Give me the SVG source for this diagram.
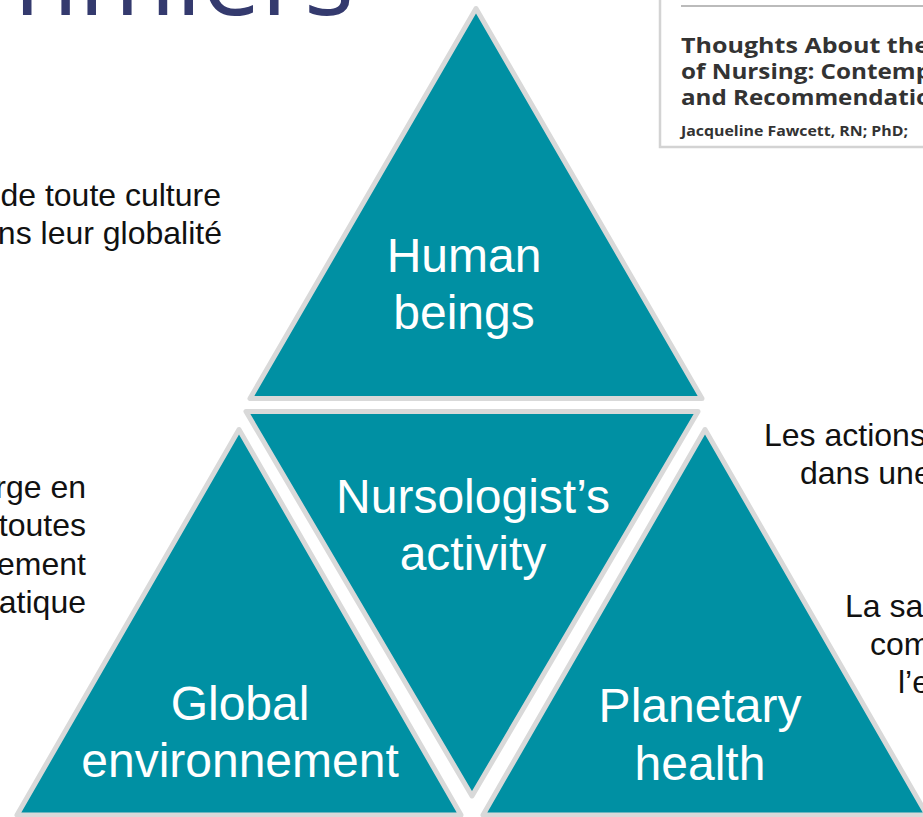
<svg xmlns="http://www.w3.org/2000/svg" width="923" height="817" viewBox="0 0 923 817">
<style>
.tri{fill:#0090A3;stroke:#D9D9D9;stroke-width:5;stroke-linejoin:round}
.lbl{font-family:"Liberation Sans",Arial,sans-serif;font-size:48px;fill:#FFFFFF;text-anchor:middle}
.side{font-family:"Liberation Sans",Arial,sans-serif;font-size:32px;fill:#111111}
.ttl{font-family:"Open Sans",Lato,sans-serif;font-weight:bold;fill:#333333}
</style>
<rect width="923" height="817" fill="#FFFFFF"/>
<text x="14" y="15" font-family="'Open Sans',sans-serif" font-size="105" fill="#343A6E">nmiers</text>
<g id="article">
<rect x="660" y="-5" width="280" height="152" fill="#FFFFFF" stroke="#D3D3D3" stroke-width="2.5"/>
<line x1="681" y1="6" x2="923" y2="6" stroke="#BBBBBB" stroke-width="2"/>
<text class="ttl" x="681" y="53" font-size="21.5" textLength="248" lengthAdjust="spacingAndGlyphs">Thoughts About the</text>
<text class="ttl" x="681" y="79" font-size="21.5" textLength="250" lengthAdjust="spacingAndGlyphs">of Nursing: Contemp</text>
<text class="ttl" x="681" y="105" font-size="21.5" textLength="250" lengthAdjust="spacingAndGlyphs">and Recommendatio</text>
<text class="ttl" x="681" y="136" font-size="14" textLength="227" lengthAdjust="spacingAndGlyphs">Jacqueline Fawcett, RN; PhD;</text>
</g>
<g id="side-texts">
<text class="side" x="221" y="206" text-anchor="end">de toute culture</text>
<text class="side" x="222" y="244" text-anchor="end">ns leur globalité</text>
<text class="side" x="86" y="498" text-anchor="end">rge en</text>
<text class="side" x="86" y="536" text-anchor="end">toutes</text>
<text class="side" x="86" y="575" text-anchor="end">ement</text>
<text class="side" x="86" y="613" text-anchor="end">atique</text>
<text class="side" x="764" y="446">Les actions</text>
<text class="side" x="800" y="484">dans une</text>
<text class="side" x="845" y="617">La sa</text>
<text class="side" x="870" y="655">com</text>
<text class="side" x="898" y="693">l’e</text>
</g>
<g id="connectors"></g>
<g id="human-beings">
<polygon class="tri" points="476,8.5 250,398.5 702,398.5"/>
<text class="lbl" x="464" y="272">Human</text>
<text class="lbl" x="464" y="329">beings</text>
</g>
<g id="nursologist-activity">
<polygon class="tri" points="246,411.5 698,411.5 472,796"/>
<text class="lbl" x="473" y="513">Nursologist’s</text>
<text class="lbl" x="473" y="570">activity</text>
</g>
<g id="global-environnement">
<polygon class="tri" points="239,429.5 17,815 461,815"/>
<text class="lbl" x="240" y="720">Global</text>
<text class="lbl" x="240" y="777">environnement</text>
</g>
<g id="planetary-health">
<polygon class="tri" points="705,429.5 483,815 927,815"/>
<text class="lbl" x="700" y="722">Planetary</text>
<text class="lbl" x="700" y="780">health</text>
</g>
</svg>
